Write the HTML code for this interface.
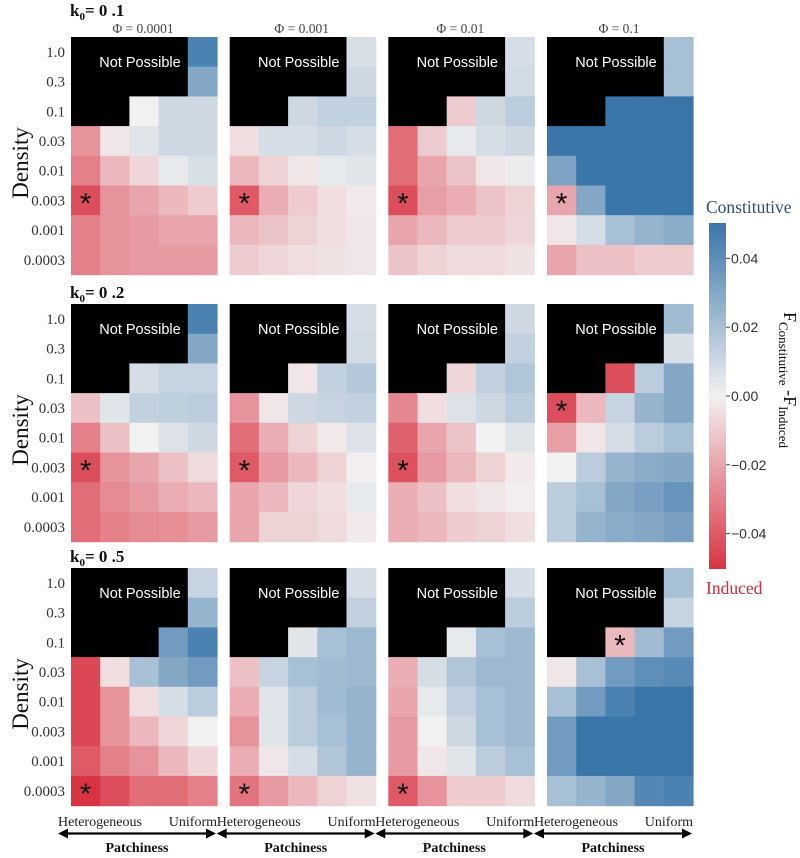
<!DOCTYPE html>
<html><head><meta charset="utf-8"><style>
body{margin:0;background:#fff;}
svg text{font-family:"Liberation Serif",serif;}
</style></head><body>
<svg id="fig" width="800" height="853" viewBox="0 0 800 853" xmlns="http://www.w3.org/2000/svg"></svg>
<script>
const densityLabels=["1.0","0.3","0.1","0.03","0.01","0.003","0.001","0.0003"];
const phiLabels=["Φ = 0.0001","Φ = 0.001","Φ = 0.01","Φ = 0.1"];
const kLabels=["0 .1","0 .2","0 .5"];
const colorbarTicks=[0.04,0.02,0.00,-0.02,-0.04];
const colorbarTickLabels=["0.04","0.02","0.00","\u22120.02","\u22120.04"];
const N=null;
// values in units of 0.01 (F_constitutive - F_induced)
const k1_p0001=[[N,N,N,N,4.5],[N,N,N,N,3],[N,N,0,1,1],[-2.5,-0.3,0.5,1,1],[-3,-1.5,-0.7,0.3,0.7],[-4.3,-2.5,-2,-1.5,-1],[-3,-2.5,-2.3,-2,-2],[-3,-2.5,-2.3,-2.3,-2.3]];
const k1_p001=[[N,N,N,N,0.7],[N,N,N,N,1],[N,N,1,1.3,1.3],[-0.5,0.8,0.8,1,0.8],[-1.5,-0.8,-0.3,0.3,0.5],[-4,-1.8,-1,-0.5,-0.2],[-1.5,-1.2,-0.8,-0.5,-0.3],[-1,-0.7,-0.5,-0.4,-0.3]];
const k1_p01=[[N,N,N,N,0.8],[N,N,N,N,0.9],[N,N,-1,1,1.5],[-3.5,-1,0.3,0.8,1],[-3.5,-2,-1.2,-0.3,0.2],[-4.3,-2.2,-1.8,-1.2,-0.8],[-2,-1.5,-1,-1,-0.7],[-1.2,-0.8,-0.6,-0.6,-0.4]];
const k1_p1=[[N,N,N,N,2],[N,N,N,N,2],[N,N,5,5,5],[5,5,5,5,5],[3.2,5,5,5,5],[-2,3,5,5,5],[-0.3,0.8,2,2.5,2.8],[-2,-1.3,-1.3,-1,-1]];
const k2_p0001=[[N,N,N,N,4.5],[N,N,N,N,3],[N,N,0.8,1.2,1.2],[-1.3,0.5,1.3,1.4,1.5],[-3,-1.3,0,0.6,1],[-4.3,-2.5,-2,-1.3,-0.6],[-3.5,-2.7,-2.3,-1.8,-1.5],[-3.5,-3,-2.7,-2.6,-2.3]];
const k2_p001=[[N,N,N,N,0.8],[N,N,N,N,0.9],[N,N,-0.3,1.3,1.7],[-2.5,-0.3,1,1.2,1.3],[-3.5,-1.8,-0.8,-0.2,0.6],[-4,-2.3,-1.5,-0.8,-0.1],[-2,-1.5,-0.7,-0.5,0.3],[-2,-0.8,-0.8,-0.6,-0.2]];
const k2_p01=[[N,N,N,N,1],[N,N,N,N,1.3],[N,N,-0.7,1.3,1.8],[-2.8,-0.5,0.6,1,1.5],[-3.8,-2,-1.2,0,0.5],[-4.2,-2.3,-1.5,-0.8,-0.2],[-1.8,-1.3,-0.5,-0.3,-0.1],[-1.8,-1.5,-1,-0.8,-0.5]];
const k2_p1=[[N,N,N,N,2.2],[N,N,N,N,0.7],[N,N,-4.3,1.5,3],[-4.3,-1.5,1.2,2.5,3],[-2.2,-0.3,0.8,1.5,2],[0,1.5,2.5,2.8,3],[1.5,2,3,3.3,3.8],[1.5,2.5,2.8,3,3.3]];
const k5_p0001=[[N,N,N,N,1.2],[N,N,N,N,2.5],[N,N,N,3.5,4.5],[-4.5,-0.5,2,3,3.5],[-4.5,-2.5,-0.5,0.8,1.5],[-4.5,-2.5,-1.5,-0.7,0],[-4,-3,-2.5,-1.5,-0.7],[-5,-4.3,-3.5,-3.5,-3]];
const k5_p001=[[N,N,N,N,0.8],[N,N,N,N,1.3],[N,N,0.5,2,2.3],[-1.3,1.2,2,2.2,2.3],[-1.8,0.5,1.5,2.2,2.5],[-2.5,0.5,1.5,2,2.5],[-1.8,-0.3,0.8,1.8,2.5],[-3.3,-2.3,-1.5,-0.8,-0.4]];
const k5_p01=[[N,N,N,N,0.8],[N,N,N,N,1.5],[N,N,0.3,2,2.3],[-1.8,0.8,1.8,2.3,2.3],[-2,0.3,1.3,2,2.3],[-2.3,0,1,2,2.3],[-2.3,-0.3,0.5,1.5,2],[-4,-2.5,-1,-1,-0.6]];
const k5_p1=[[N,N,N,N,2],[N,N,N,N,1.2],[N,N,-1.5,2.2,3.5],[-0.3,2,3.5,4,4.2],[2,3.5,4.5,5,5],[3.5,5,5,5,5],[3.5,5,5,5,5],[2,2.5,3,4.3,4.5]];
const panels=[[k1_p0001,k1_p001,k1_p01,k1_p1],[k2_p0001,k2_p001,k2_p01,k2_p1],[k5_p0001,k5_p001,k5_p01,k5_p1]];
// asterisk positions [row, col] per panel
const stars=[[[5,0],[5,0],[5,0],[5,0]],[[5,0],[5,0],[5,0],[3,0]],[[7,0],[7,0],[7,0],[2,2]]];

const NS="http://www.w3.org/2000/svg";
const svg=document.getElementById('fig');
function mk(tag,attrs,parent,text){const e=document.createElementNS(NS,tag);for(const k in attrs)e.setAttribute(k,attrs[k]);if(text!==undefined)e.textContent=text;(parent||svg).appendChild(e);return e;}
const RED=[218,52,68],MID=[242,241,241],BLUE=[58,118,170];
function color(v){v=Math.max(-5,Math.min(5,v));const t=Math.abs(v)/5;const e=v<0?RED:BLUE;
 return `rgb(${Math.round(MID[0]+(e[0]-MID[0])*t)},${Math.round(MID[1]+(e[1]-MID[1])*t)},${Math.round(MID[2]+(e[2]-MID[2])*t)})`;}
const panelX=[71,229.7,388.3,547],rowTop=[37,304,568],kLabelY=[16,298,562],PW=146,PH=237.6,CW=PW/5,CH=PH/8;
function xCell(c,p){return panelX[p]+c*CW;}
function yCell(r,row){return rowTop[row]+r*CH;}

for(let R=0;R<3;R++){
 const kl=mk('text',{x:70,y:kLabelY[R],'font-size':17,'font-weight':'bold',fill:'#111'});
 
 
 kl.innerHTML=`k<tspan font-size="11" dy="4">0</tspan><tspan dy="-4">= ${kLabels[R]}</tspan>`;
 for(let P=0;P<4;P++){
  const g=mk('g',{});
  
  
  const data=panels[R][P];
  for(let r=0;r<8;r++)for(let c=0;c<5;c++){
   const v=data[r][c];
   const rc=mk('rect',{x:xCell(c,P).toFixed(2),y:yCell(r,R).toFixed(2),width:(CW+0.6).toFixed(2),height:(CH+0.6).toFixed(2),fill:v===null?'#000':color(v)},g);
   
   
  }
  const np=mk('text',{x:panelX[P]+69,y:rowTop[R]+30,'text-anchor':'middle','font-size':14.5,fill:'#fff',style:'font-family:"Liberation Sans",sans-serif'},g,'Not Possible');
  
  
  const s=stars[R][P];
  const st=mk('text',{x:xCell(s[1],P)+CW/2,y:yCell(s[0],R)+CH/2+13,'text-anchor':'middle','font-size':30,fill:'#111',style:'font-family:"Liberation Sans",sans-serif'},g,'*');
  
  
  if(R===0){
   const ph=mk('text',{x:panelX[P]+72,y:33,'text-anchor':'middle','font-size':13.5,fill:'#444'},null,phiLabels[P]);
   
   
  }
 }
 for(let r=0;r<8;r++){
  const t=mk('text',{x:65,y:yCell(r,R)+CH/2+5,'text-anchor':'end','font-size':15,fill:'#333'},null,densityLabels[r]);
  
  
 }
 const cy=rowTop[R]+PH*0.53;
 const d=mk('text',{x:0,y:0,transform:`translate(28,${cy}) rotate(-90)`,'text-anchor':'middle','font-size':23,fill:'#111'},null,'Density');
 
 
}
// bottom patchiness arrows
for(let P=0;P<4;P++){
 const L=panelX[P]-13,Rr=panelX[P]+PW-1;
 const g=mk('g',{});
 
 
 mk('text',{x:L,y:826,'font-size':14,fill:'#222'},g,'Heterogeneous');
 mk('text',{x:Rr+1,y:826,'text-anchor':'end','font-size':14,fill:'#222'},g,'Uniform');
 mk('line',{x1:L+8,y1:833.5,x2:Rr-8,y2:833.5,stroke:'#000','stroke-width':2.2},g);
 mk('polygon',{points:`${L},833.5 ${L+10},828.5 ${L+10},838.5`,fill:'#000'},g);
 mk('polygon',{points:`${Rr},833.5 ${Rr-10},828.5 ${Rr-10},838.5`,fill:'#000'},g);
 mk('text',{x:(L+Rr)/2,y:852,'text-anchor':'middle','font-size':14,'font-weight':'bold',fill:'#111'},g,'Patchiness');
}
// colorbar
const cbX=709,cbTop=223,cbBot=569,cbMax=5.03,cbMin=-5.03;
function yCb(v){return cbTop+(cbMax-v*100)/(cbMax-cbMin)*(cbBot-cbTop);}
const cbg=mk('g',{});


const defs=mk('defs',{});
const lg=mk('linearGradient',{id:'cbgrad',x1:0,y1:0,x2:0,y2:1},defs);
for(let i=0;i<=20;i++){const v=cbMax-(cbMax-cbMin)*i/20;mk('stop',{offset:(i/20),'stop-color':color(v)},lg);}
mk('rect',{x:cbX,y:cbTop,width:17,height:cbBot-cbTop,fill:'url(#cbgrad)'},cbg);
colorbarTicks.forEach((v,i)=>{
 const y=yCb(v);
 mk('line',{x1:cbX+17,y1:y,x2:cbX+21,y2:y,stroke:'#444','stroke-width':1},cbg);
 const t=mk('text',{x:cbX+22,y:y+5,'font-size':14,fill:'#333',style:'font-family:"Liberation Sans",sans-serif'},cbg,colorbarTickLabels[i]);
 
 
});
const ct=mk('text',{x:706,y:213,'font-size':17.5,fill:'#2f4d80'},null,'Constitutive');


const it=mk('text',{x:706,y:594,'font-size':17.5,fill:'#d22b3a'},null,'Induced');


const fl=mk('text',{x:0,y:0,transform:'translate(784,312) rotate(90)','font-size':18,fill:'#111'});


fl.innerHTML='F<tspan font-size="13" dy="5">Constitutive</tspan><tspan dy="-5"> -F</tspan><tspan font-size="13" dy="5">Induced</tspan>';
</script>
</body></html>
